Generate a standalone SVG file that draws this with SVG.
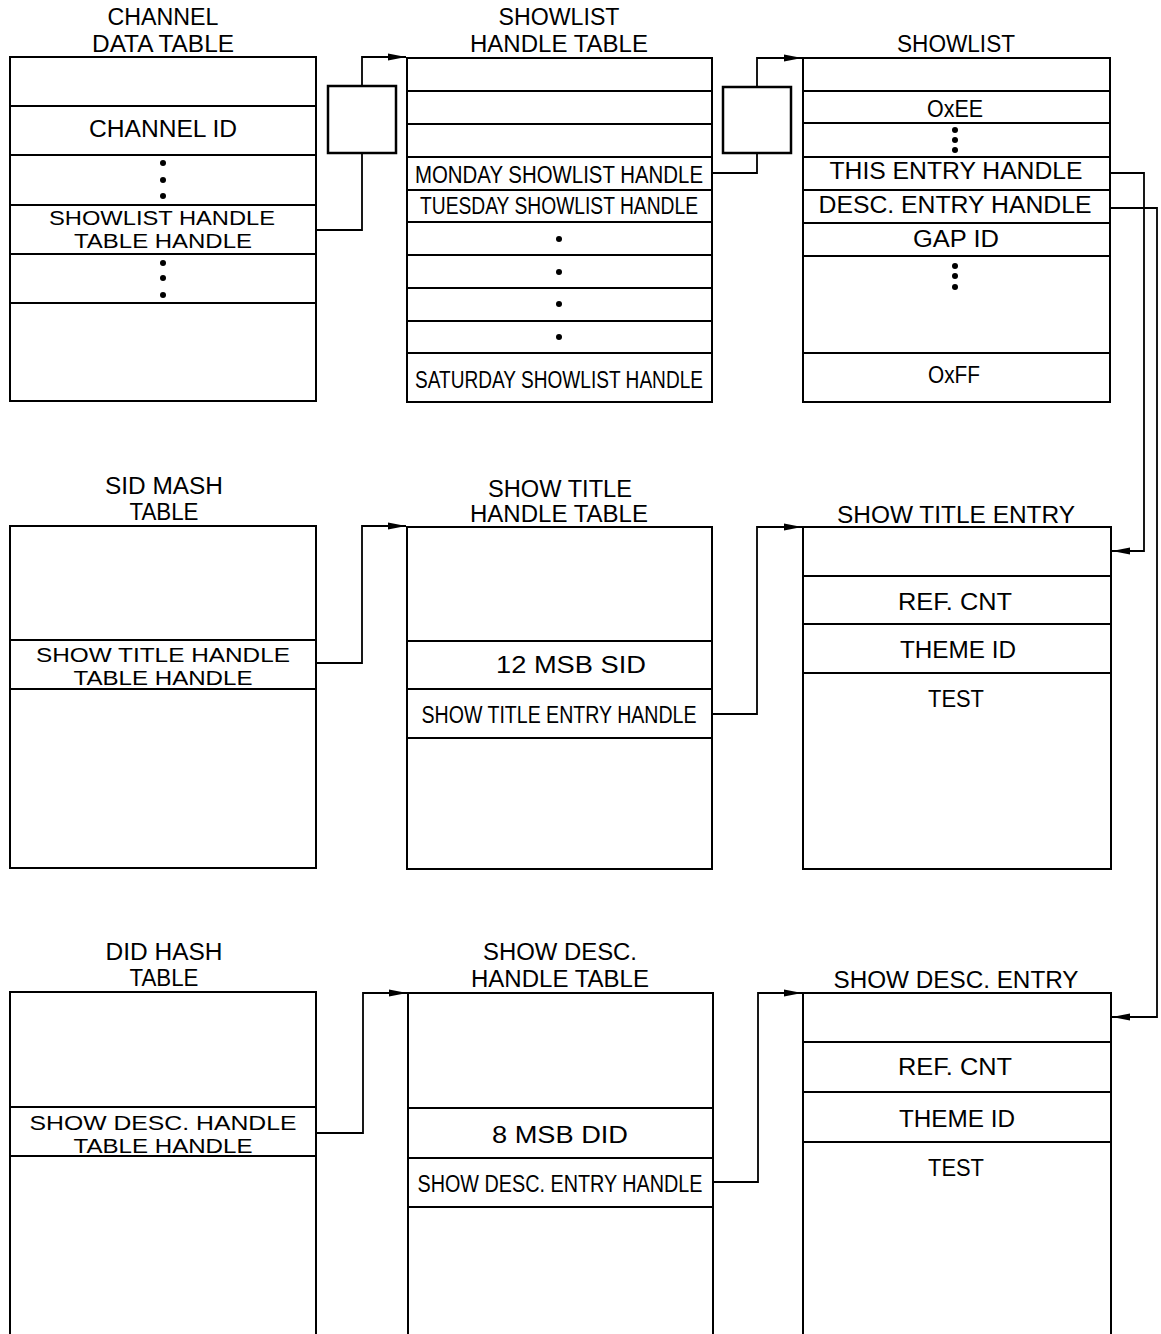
<svg xmlns="http://www.w3.org/2000/svg" width="1161" height="1334" viewBox="0 0 1161 1334">
<style>
.box{fill:#fff;stroke:#000;stroke-width:2}
.row{stroke:#000;stroke-width:2}
.sb{fill:#fff;stroke:#000;stroke-width:2.5}
.con{fill:none;stroke:#000;stroke-width:1.8}
text{font-family:"Liberation Sans",Arial,sans-serif;font-size:23px;fill:#000;text-anchor:middle}
text.two{font-size:20px}
.dot{fill:#000}
</style>
<defs>
<marker id="ah" markerUnits="userSpaceOnUse" markerWidth="18" markerHeight="8" refX="18" refY="4" orient="auto">
<path d="M0,0.6 L18,4 L0,7.4 Z" fill="#000"/>
</marker>
</defs>
<rect width="1161" height="1334" fill="#fff"/>

<g id="channel-data-table">
<text x="163" y="25" textLength="111" lengthAdjust="spacingAndGlyphs">CHANNEL</text>
<text x="163" y="52" textLength="142" lengthAdjust="spacingAndGlyphs">DATA TABLE</text>
<rect class="box" x="10" y="57" width="306" height="344"/>
<line class="row" x1="10" y1="106" x2="316" y2="106"/>
<line class="row" x1="10" y1="155" x2="316" y2="155"/>
<line class="row" x1="10" y1="205" x2="316" y2="205"/>
<line class="row" x1="10" y1="254" x2="316" y2="254"/>
<line class="row" x1="10" y1="303" x2="316" y2="303"/>
<text x="163" y="137" textLength="148" lengthAdjust="spacingAndGlyphs">CHANNEL ID</text>
<circle class="dot" cx="163" cy="163" r="3"/><circle class="dot" cx="163" cy="180" r="3"/><circle class="dot" cx="163" cy="196" r="3"/>
<text class="two" x="162" y="225" textLength="226" lengthAdjust="spacingAndGlyphs">SHOWLIST HANDLE</text>
<text class="two" x="163" y="248" textLength="178" lengthAdjust="spacingAndGlyphs">TABLE HANDLE</text>
<circle class="dot" cx="163" cy="263" r="3"/><circle class="dot" cx="163" cy="278" r="3"/><circle class="dot" cx="163" cy="295" r="3"/>
</g>

<g id="box-1"><rect class="sb" x="328" y="86" width="68" height="67"/></g>
<g id="box-2"><rect class="sb" x="723" y="87" width="68" height="66"/></g>

<g id="showlist-handle-table">
<text x="559" y="25" textLength="121" lengthAdjust="spacingAndGlyphs">SHOWLIST</text>
<text x="559" y="52" textLength="178" lengthAdjust="spacingAndGlyphs">HANDLE TABLE</text>
<rect class="box" x="407" y="58" width="305" height="344"/>
<line class="row" x1="407" y1="91" x2="712" y2="91"/>
<line class="row" x1="407" y1="124" x2="712" y2="124"/>
<line class="row" x1="407" y1="157" x2="712" y2="157"/>
<line class="row" x1="407" y1="190" x2="712" y2="190"/>
<line class="row" x1="407" y1="222" x2="712" y2="222"/>
<line class="row" x1="407" y1="255" x2="712" y2="255"/>
<line class="row" x1="407" y1="288" x2="712" y2="288"/>
<line class="row" x1="407" y1="321" x2="712" y2="321"/>
<line class="row" x1="407" y1="353" x2="712" y2="353"/>
<text x="559" y="183" textLength="288" lengthAdjust="spacingAndGlyphs">MONDAY SHOWLIST HANDLE</text>
<text x="559" y="214" textLength="278" lengthAdjust="spacingAndGlyphs">TUESDAY SHOWLIST HANDLE</text>
<circle class="dot" cx="559" cy="239" r="3"/><circle class="dot" cx="559" cy="272" r="3"/><circle class="dot" cx="559" cy="304" r="3"/><circle class="dot" cx="559" cy="337" r="3"/>
<text x="559" y="388" textLength="288" lengthAdjust="spacingAndGlyphs">SATURDAY SHOWLIST HANDLE</text>
</g>

<g id="showlist">
<text x="956" y="52" textLength="118" lengthAdjust="spacingAndGlyphs">SHOWLIST</text>
<rect class="box" x="803" y="58" width="307" height="344"/>
<line class="row" x1="803" y1="91" x2="1110" y2="91"/>
<line class="row" x1="803" y1="123" x2="1110" y2="123"/>
<line class="row" x1="803" y1="157" x2="1110" y2="157"/>
<line class="row" x1="803" y1="190" x2="1110" y2="190"/>
<line class="row" x1="803" y1="223" x2="1110" y2="223"/>
<line class="row" x1="803" y1="256" x2="1110" y2="256"/>
<line class="row" x1="803" y1="353" x2="1110" y2="353"/>
<text x="955" y="117" textLength="56" lengthAdjust="spacingAndGlyphs">OxEE</text>
<circle class="dot" cx="955" cy="130" r="3"/><circle class="dot" cx="955" cy="140" r="3"/><circle class="dot" cx="955" cy="150" r="3"/>
<text x="956" y="179" textLength="253" lengthAdjust="spacingAndGlyphs">THIS ENTRY HANDLE</text>
<text x="955" y="213" textLength="273" lengthAdjust="spacingAndGlyphs">DESC. ENTRY HANDLE</text>
<text x="956" y="247" textLength="86" lengthAdjust="spacingAndGlyphs">GAP ID</text>
<circle class="dot" cx="955" cy="266" r="3"/><circle class="dot" cx="955" cy="276" r="3"/><circle class="dot" cx="955" cy="287" r="3"/>
<text x="954" y="383" textLength="52" lengthAdjust="spacingAndGlyphs">OxFF</text>
</g>

<g id="sid-mash-table">
<text x="164" y="494" textLength="118" lengthAdjust="spacingAndGlyphs">SID MASH</text>
<text x="164" y="520" textLength="69" lengthAdjust="spacingAndGlyphs">TABLE</text>
<rect class="box" x="10" y="526" width="306" height="342"/>
<line class="row" x1="10" y1="640" x2="316" y2="640"/>
<line class="row" x1="10" y1="689" x2="316" y2="689"/>
<text class="two" x="163" y="662" textLength="254" lengthAdjust="spacingAndGlyphs">SHOW TITLE HANDLE</text>
<text class="two" x="163" y="685" textLength="179" lengthAdjust="spacingAndGlyphs">TABLE HANDLE</text>
</g>

<g id="show-title-handle-table">
<text x="560" y="497" textLength="144" lengthAdjust="spacingAndGlyphs">SHOW TITLE</text>
<text x="559" y="522" textLength="178" lengthAdjust="spacingAndGlyphs">HANDLE TABLE</text>
<rect class="box" x="407" y="527" width="305" height="342"/>
<line class="row" x1="407" y1="641" x2="712" y2="641"/>
<line class="row" x1="407" y1="689" x2="712" y2="689"/>
<line class="row" x1="407" y1="738" x2="712" y2="738"/>
<text x="571" y="673" textLength="150" lengthAdjust="spacingAndGlyphs">12 MSB SID</text>
<text x="559" y="723" textLength="275" lengthAdjust="spacingAndGlyphs">SHOW TITLE ENTRY HANDLE</text>
</g>

<g id="show-title-entry">
<text x="956" y="523" textLength="238" lengthAdjust="spacingAndGlyphs">SHOW TITLE ENTRY</text>
<rect class="box" x="803" y="527" width="308" height="342"/>
<line class="row" x1="803" y1="576" x2="1111" y2="576"/>
<line class="row" x1="803" y1="624" x2="1111" y2="624"/>
<line class="row" x1="803" y1="673" x2="1111" y2="673"/>
<text x="955" y="610" textLength="114" lengthAdjust="spacingAndGlyphs">REF. CNT</text>
<text x="958" y="658" textLength="116" lengthAdjust="spacingAndGlyphs">THEME ID</text>
<text x="956" y="707" textLength="56" lengthAdjust="spacingAndGlyphs">TEST</text>
</g>

<g id="did-hash-table">
<text x="164" y="960" textLength="117" lengthAdjust="spacingAndGlyphs">DID HASH</text>
<text x="164" y="986" textLength="69" lengthAdjust="spacingAndGlyphs">TABLE</text>
<rect class="box" x="10" y="992" width="306" height="360"/>
<line class="row" x1="10" y1="1107" x2="316" y2="1107"/>
<line class="row" x1="10" y1="1156" x2="316" y2="1156"/>
<text class="two" x="163" y="1130" textLength="267" lengthAdjust="spacingAndGlyphs">SHOW DESC. HANDLE</text>
<text class="two" x="163" y="1153" textLength="179" lengthAdjust="spacingAndGlyphs">TABLE HANDLE</text>
</g>

<g id="show-desc-handle-table">
<text x="560" y="960" textLength="154" lengthAdjust="spacingAndGlyphs">SHOW DESC.</text>
<text x="560" y="987" textLength="178" lengthAdjust="spacingAndGlyphs">HANDLE TABLE</text>
<rect class="box" x="408" y="993" width="305" height="360"/>
<line class="row" x1="408" y1="1108" x2="713" y2="1108"/>
<line class="row" x1="408" y1="1158" x2="713" y2="1158"/>
<line class="row" x1="408" y1="1207" x2="713" y2="1207"/>
<text x="560" y="1143" textLength="136" lengthAdjust="spacingAndGlyphs">8 MSB DID</text>
<text x="560" y="1192" textLength="285" lengthAdjust="spacingAndGlyphs">SHOW DESC. ENTRY HANDLE</text>
</g>

<g id="show-desc-entry">
<text x="956" y="988" textLength="245" lengthAdjust="spacingAndGlyphs">SHOW DESC. ENTRY</text>
<rect class="box" x="803" y="993" width="308" height="360"/>
<line class="row" x1="803" y1="1042" x2="1111" y2="1042"/>
<line class="row" x1="803" y1="1092" x2="1111" y2="1092"/>
<line class="row" x1="803" y1="1142" x2="1111" y2="1142"/>
<text x="955" y="1075" textLength="114" lengthAdjust="spacingAndGlyphs">REF. CNT</text>
<text x="957" y="1127" textLength="116" lengthAdjust="spacingAndGlyphs">THEME ID</text>
<text x="956" y="1176" textLength="56" lengthAdjust="spacingAndGlyphs">TEST</text>
</g>

<g id="connectors">
<path class="con" d="M316,230 H362 V153"/>
<path class="con" d="M362,86 V57 H406" marker-end="url(#ah)"/>
<path class="con" d="M712,173 H757 V153"/>
<path class="con" d="M757,87 V58 H802" marker-end="url(#ah)"/>
<path class="con" d="M1110,173 H1144 V551 H1112" marker-end="url(#ah)"/>
<path class="con" d="M1110,208 H1157 V1017 H1112" marker-end="url(#ah)"/>
<path class="con" d="M316,663 H362 V526 H406" marker-end="url(#ah)"/>
<path class="con" d="M712,714 H757 V527 H802" marker-end="url(#ah)"/>
<path class="con" d="M316,1133 H363 V993 H407" marker-end="url(#ah)"/>
<path class="con" d="M713,1182 H758 V993 H802" marker-end="url(#ah)"/>
</g>
</svg>
